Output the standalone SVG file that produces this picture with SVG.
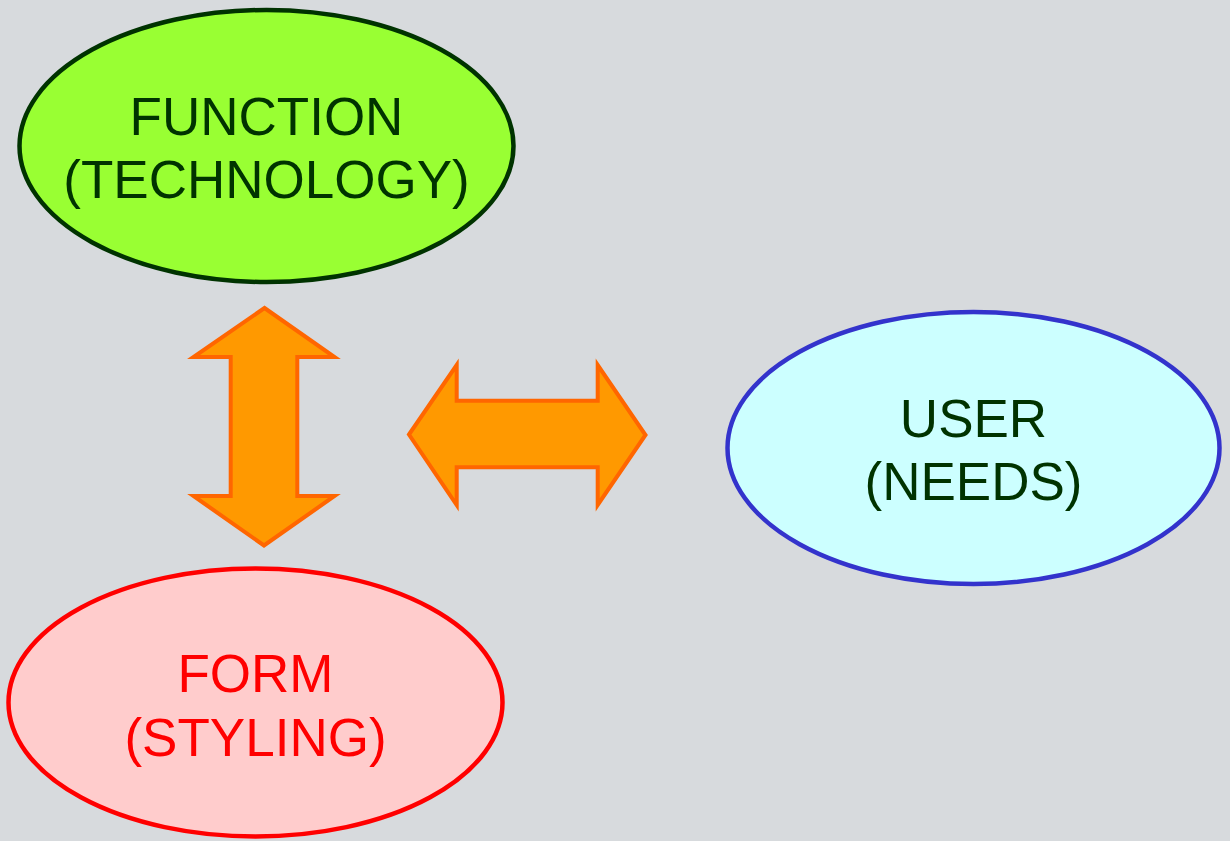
<svg xmlns="http://www.w3.org/2000/svg" width="1230" height="841" viewBox="0 0 1230 841">
<style>
.lbl{font-family:"Liberation Sans",Arial,sans-serif;font-size:53px;text-anchor:middle}
.arrow{fill:#ff9900;stroke:#ff6600;stroke-width:4;stroke-linejoin:miter}
</style>
<rect width="1230" height="841" fill="#d7dadd"/>
<g id="function">
<ellipse cx="266.5" cy="146" rx="247" ry="136" fill="#99ff33" stroke="#003300" stroke-width="4.5"/>
<text class="lbl" fill="#003300"><tspan x="266.5" y="135">FUNCTION</tspan><tspan x="266.5" y="198">(TECHNOLOGY)</tspan></text>
</g>
<g id="user">
<ellipse cx="973.5" cy="448" rx="246" ry="136" fill="#ccffff" stroke="#3333cc" stroke-width="4.5"/>
<text class="lbl" fill="#003300"><tspan x="973.5" y="437">USER</tspan><tspan x="973.5" y="500">(NEEDS)</tspan></text>
</g>
<g id="form">
<ellipse cx="255.5" cy="702.5" rx="247" ry="134" fill="#ffcccc" stroke="#ff0000" stroke-width="4.5"/>
<text class="lbl" fill="#ff0000"><tspan x="255.5" y="692">FORM</tspan><tspan x="255.5" y="756">(STYLING)</tspan></text>
</g>
<g id="connectors">
<polygon class="arrow" points="264.5,308 334.5,357 297.3,357 297.3,496 334.5,496 264,545.5 193.5,496 230.7,496 230.7,357 193.5,357"/>
<polygon class="arrow" points="409,434.5 456.7,365 456.7,400.7 597.7,400.7 597.7,365 645.5,435 597.7,505 597.7,467.3 456.7,467.3 456.7,505"/>
</g>
</svg>
